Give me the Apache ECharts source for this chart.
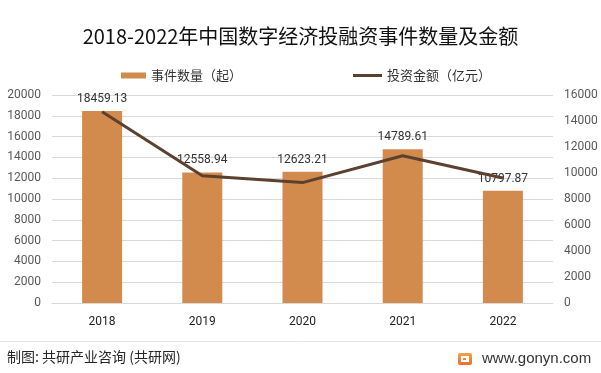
<!DOCTYPE html>
<html>
<head>
<meta charset="utf-8">
<script src="https://cdn.jsdelivr.net/npm/echarts@6/dist/echarts.min.js"></script>
<style>
html,body{margin:0;padding:0;background:#fff;}
#c{width:601px;height:373px;}
</style>
</head>
<body>
<div id="c"></div>
<script>
const titleText = '2018-2022年中国数字经济投融资事件数量及金额';
const categories = ['2018', '2019', '2020', '2021', '2022'];
const eventCount = [18459.13, 12558.94, 12623.21, 14789.61, 10797.87];
const investAmount = [14720, 9790, 9260, 11330, 9620];
const leftTicks = [0, 20000, 2000];
const rightTicks = [0, 16000, 2000];
const seriesNames = ['事件数量（起）', '投资金额（亿元）'];
const footerLeft = '制图: 共研产业咨询 (共研网)';
const footerRight = 'www.gonyn.com';

const cjk = '"Noto Sans CJK SC", "Microsoft YaHei", sans-serif';
const num = '"Liberation Sans Narrow", Roboto, "Liberation Sans", sans-serif';
const plain = v => String(v);
const chart = echarts.init(document.getElementById('c'), null, {renderer: 'canvas'});
chart.setOption({
  backgroundColor: '#fff',
  animation: false,
  title: {
    text: titleText, left: 'center', top: 21,
    textStyle: {fontFamily: cjk, fontSize: 20, fontWeight: 'normal', color: '#111'}
  },
  legend: [
    {data: [seriesNames[0]], left: 116, top: 64, itemWidth: 25, itemHeight: 6, icon: 'rect',
     textStyle: {fontFamily: cjk, fontSize: 13, color: '#333'}},
    {data: [seriesNames[1]], left: 348, top: 64, itemWidth: 29, itemHeight: 3, icon: 'rect',
     textStyle: {fontFamily: cjk, fontSize: 13, color: '#333'}}
  ],
  grid: {left: 52, right: 48, top: 95, bottom: 70, containLabel: false},
  xAxis: {
    type: 'category', data: categories,
    axisLine: {lineStyle: {color: '#d9d9d9'}},
    axisTick: {show: false},
    axisLabel: {fontFamily: num, fontSize: 12, color: '#222', margin: 13}
  },
  yAxis: [
    {type: 'value', min: leftTicks[0], max: leftTicks[1], interval: leftTicks[2],
     axisLine: {show: false}, axisTick: {show: false},
     splitLine: {lineStyle: {color: '#d9d9d9'}},
     axisLabel: {fontFamily: num, fontSize: 12, color: '#595959', margin: 11, formatter: plain}},
    {type: 'value', min: rightTicks[0], max: rightTicks[1], interval: rightTicks[2],
     axisLine: {show: false}, axisTick: {show: false},
     splitLine: {show: false},
     axisLabel: {fontFamily: num, fontSize: 12, color: '#595959', margin: 11, formatter: plain}}
  ],
  series: [
    {name: seriesNames[0], type: 'bar', data: eventCount, barWidth: 40, yAxisIndex: 0,
     itemStyle: {color: '#D38B4D'},
     label: {show: true, position: 'top', distance: 6, fontFamily: num, fontSize: 12, color: '#333',
             formatter: p => String(p.value)}},
    {name: seriesNames[1], type: 'line', data: investAmount, yAxisIndex: 1,
     showSymbol: false, symbol: 'none', z: 5,
     lineStyle: {color: '#5C4030', width: 3},
     itemStyle: {color: '#5C4030'}}
  ],
  graphic: [
    {type: 'line', shape: {x1: 0, y1: 341.5, x2: 601, y2: 341.5}, style: {stroke: '#e3e3e3', lineWidth: 1}},
    {type: 'text', left: 7, top: 350, style: {text: footerLeft, font: '14px ' + cjk, fill: '#262626'}},
    {type: 'rect', shape: {x: 458, y: 353, width: 14, height: 12, r: 2},
     style: {fill: new echarts.graphic.LinearGradient(0, 0, 0, 1, [{offset: 0, color: '#F7A24A'}, {offset: 1, color: '#EC6A2E'}])}},
    {type: 'rect', shape: {x: 461, y: 356, width: 8, height: 2}, style: {fill: '#fff'}},
    {type: 'rect', shape: {x: 461, y: 356, width: 2, height: 6}, style: {fill: '#fff'}},
    {type: 'rect', shape: {x: 461, y: 360, width: 8, height: 2}, style: {fill: '#fff'}},
    {type: 'rect', shape: {x: 466, y: 358, width: 3, height: 2}, style: {fill: '#fff'}},
    {type: 'text', left: 482, top: 351, style: {text: footerRight, font: '15px "Liberation Sans", Arial, sans-serif', fill: '#333'}}
  ]
});
</script>
</body>
</html>
